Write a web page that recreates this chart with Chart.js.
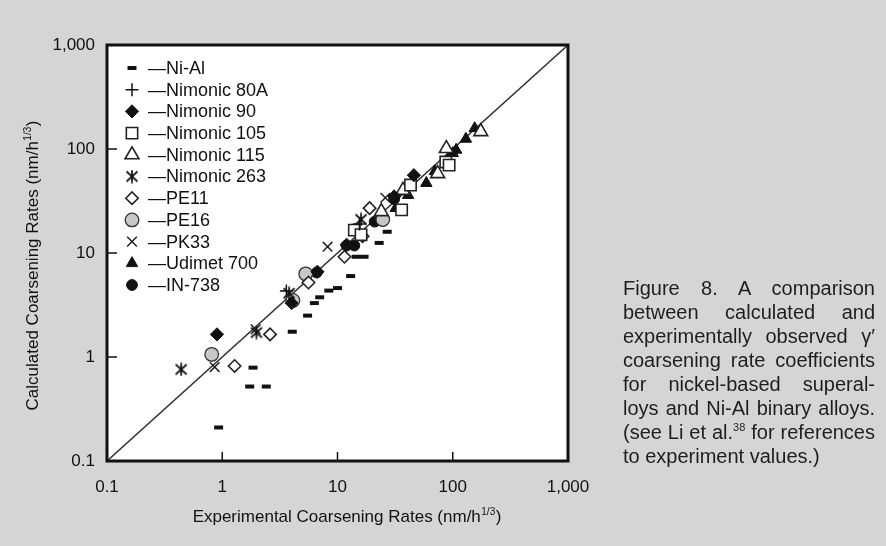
<!DOCTYPE html>
<html>
<head>
<meta charset="utf-8">
<script src="https://cdn.jsdelivr.net/npm/chart.js@4.4.1/dist/chart.umd.min.js"></script>
<style>
body { margin: 0; background: #d4d5d7; }
#wrap { position: relative; width: 886px; height: 546px; }
#caption {
  position: absolute; left: 623px; top: 276px; width: 252px;
  font-family: "Liberation Sans", Arial, sans-serif; font-size: 20px;
  line-height: 24px; color: #1e1e1e;
}
#caption div { text-align: justify; text-align-last: justify; }
#caption div.last { text-align-last: left; }
#caption sup { font-size: 11px; line-height: 0; vertical-align: 8px; }
</style>
</head>
<body>
<div id="wrap">
  <canvas id="myChart"></canvas>
  <div id="caption">
    <div>Figure 8. A comparison</div>
    <div>between calculated and</div>
    <div>experimentally observed γ′</div>
    <div>coarsening rate coefficients</div>
    <div>for nickel-based superal-</div>
    <div>loys and Ni-Al binary alloys.</div>
    <div>(see Li et al.<sup>38</sup> for references</div>
    <div class="last">to experiment values.)</div>
  </div>
</div>
<script>
'use strict';
// tick values and their printed labels
var tickValues = [0.1, 1, 10, 100, 1000];
var tickLabels = ['0.1', '1', '10', '100', '1,000'];

// identity line: calculated = experimental
var parityLine = [[0.1, 0.1], [1000, 1000]];

// [experimental, calculated] pairs
var niAl = [[0.93, 0.21], [1.73, 0.52], [2.41, 0.52], [1.85, 0.79], [4.05, 1.75],
    [5.5, 2.5], [6.3, 3.3], [7.0, 3.75], [8.4, 4.35], [10, 4.6], [13, 6.0],
    [14.5, 9.2], [17, 9.2], [23, 12.5], [27, 16]];
var nimonic80A = [[3.6, 4.3], [15.5, 19]];
var nimonic90 = [[0.9, 1.65], [4.0, 3.3], [6.7, 6.6], [12, 12], [31, 35], [46, 56]];
var nimonic105 = [[14, 16.6], [16, 15], [36, 26], [43, 45], [87, 75], [93, 70]];
var nimonic115 = [[24, 25], [37, 40], [74, 58], [88, 101], [175, 147]];
var nimonic263 = [[0.44, 0.76], [1.98, 1.72], [3.8, 4.1], [16, 21]];
var pe11 = [[1.28, 0.82], [2.6, 1.65], [5.6, 5.2], [11.5, 9.2], [16.5, 14.5], [19, 27]];
var pe16 = [[0.81, 1.06], [4.1, 3.5], [5.3, 6.3], [24.7, 21]];
var pk33 = [[0.86, 0.8], [1.95, 1.85], [8.2, 11.5], [26, 34]];
var udimet700 = [[32, 27], [41, 36], [59, 47], [70, 61], [90, 78], [100, 91],
    [107, 98], [130, 125], [155, 158]];
var in738 = [[6.6, 6.5], [12, 11.8], [14, 11.8], [21, 20], [31, 33]];

var seriesNames = ['Ni-Al', 'Nimonic 80A', 'Nimonic 90', 'Nimonic 105', 'Nimonic 115',
    'Nimonic 263', 'PE11', 'PE16', 'PK33', 'Udimet 700', 'IN-738'];

var FONT = '"Liberation Sans", Arial, sans-serif';

var toPoints = function(pairs) {
    return pairs.map(function(p) { return {x: p[0], y: p[1]}; });
};

// six-armed asterisk used for Nimonic 263
var makeAsterisk = function() {
    var c = document.createElement('canvas');
    c.width = 14; c.height = 14;
    var g = c.getContext('2d');
    g.strokeStyle = '#111';
    g.lineWidth = 1.7;
    g.beginPath();
    g.moveTo(7, 0.5); g.lineTo(7, 13.5);
    g.moveTo(1.5, 2); g.lineTo(12.5, 12);
    g.moveTo(12.5, 2); g.lineTo(1.5, 12);
    g.stroke();
    return c;
};

var marker = function(name, pairs, style, radius, fill, border, width) {
    return {
        label: name,
        data: toPoints(pairs),
        showLine: false,
        pointStyle: style,
        pointRadius: radius,
        pointBackgroundColor: fill,
        pointBorderColor: border,
        pointBorderWidth: width,
        order: 0
    };
};

var datasets = [
    marker(seriesNames[0], niAl, 'line', 4.5, '#111', '#111', 4),
    marker(seriesNames[1], nimonic80A, 'cross', 6.5, '#111', '#111', 1.5),
    marker(seriesNames[2], nimonic90, 'rectRot', 6.6, '#111', '#111', 1),
    marker(seriesNames[3], nimonic105, 'rect', 8, '#fff', '#222', 1.6),
    marker(seriesNames[4], nimonic115, 'triangle', 8, '#fff', '#222', 1.6),
    marker(seriesNames[5], nimonic263, makeAsterisk(), 7, '#111', '#111', 1),
    marker(seriesNames[6], pe11, 'rectRot', 6.2, '#fff', '#222', 1.6),
    marker(seriesNames[7], pe16, 'circle', 6.8, '#c8c8c8', '#333', 1.3),
    marker(seriesNames[8], pk33, 'crossRot', 6.8, '#111', '#222', 1.5),
    marker(seriesNames[9], udimet700, 'triangle', 6.6, '#111', '#111', 1),
    marker(seriesNames[10], in738, 'circle', 5.4, '#111', '#111', 1),
    {
        label: 'parity',
        data: toPoints(parityLine),
        showLine: true,
        borderColor: '#333',
        borderWidth: 1.5,
        pointRadius: 0,
        order: 10
    }
];

var drawTitle = function(ctx, main, sup, tail, cx, cy, rotate) {
    ctx.save();
    ctx.translate(cx, cy);
    if (rotate) ctx.rotate(-Math.PI / 2);
    ctx.fillStyle = '#111';
    ctx.textBaseline = 'middle';
    ctx.textAlign = 'left';
    ctx.font = '17px ' + FONT;
    var w1 = ctx.measureText(main).width;
    var w3 = ctx.measureText(tail).width;
    ctx.font = '10px ' + FONT;
    var w2 = ctx.measureText(sup).width;
    var x = -(w1 + w2 + w3) / 2;
    ctx.font = '17px ' + FONT;
    ctx.fillText(main, x, 0);
    ctx.font = '10px ' + FONT;
    ctx.fillText(sup, x + w1 + 0.5, -5);
    ctx.font = '17px ' + FONT;
    ctx.fillText(tail, x + w1 + w2 + 1, 0);
    ctx.restore();
};

var framePlugin = {
    id: 'frame',
    beforeDraw: function(chart) {
        var a = chart.chartArea, ctx = chart.ctx;
        ctx.save();
        ctx.fillStyle = '#fff';
        ctx.fillRect(a.left, a.top, a.right - a.left, a.bottom - a.top);
        ctx.restore();
    },
    afterDraw: function(chart) {
        var a = chart.chartArea, ctx = chart.ctx;
        var xs = chart.scales.x, ys = chart.scales.y;
        ctx.save();
        // inward tick marks
        ctx.strokeStyle = '#111';
        ctx.lineWidth = 1.5;
        ctx.beginPath();
        tickValues.slice(1, -1).forEach(function(v) {
            var px = xs.getPixelForValue(v);
            ctx.moveTo(px, a.bottom); ctx.lineTo(px, a.bottom - 9);
            var py = ys.getPixelForValue(v);
            ctx.moveTo(a.left, py); ctx.lineTo(a.left + 10, py);
        });
        ctx.stroke();
        // frame
        ctx.lineWidth = 3;
        ctx.strokeRect(a.left, a.top, a.right - a.left, a.bottom - a.top);

        // legend inside the plot
        ctx.font = '18px ' + FONT;
        ctx.textBaseline = 'middle';
        ctx.textAlign = 'left';
        var rowY = a.top + 23;
        chart.data.datasets.forEach(function(ds) {
            if (ds.label === 'parity') return;
            ctx.fillStyle = ds.pointBackgroundColor;
            ctx.strokeStyle = ds.pointBorderColor;
            ctx.lineWidth = ds.pointBorderWidth;
            Chart.helpers.drawPoint(ctx, {
                pointStyle: ds.pointStyle,
                radius: ds.pointRadius,
                rotation: 0,
                borderWidth: ds.pointBorderWidth
            }, a.left + 25, rowY);
            ctx.fillStyle = '#111';
            ctx.fillText('\u2014' + ds.label, a.left + 41, rowY + 1);
            rowY += 21.7;
        });
        ctx.restore();

        drawTitle(ctx, 'Experimental Coarsening Rates (nm/h', '1/3', ')',
            (a.left + a.right) / 2 + 9, 517, false);
        drawTitle(ctx, 'Calculated Coarsening Rates (nm/h', '1/3', ')',
            33, (a.top + a.bottom) / 2 + 13, true);
    }
};

var tickFont = {family: FONT, size: 17};

var ctx = document.getElementById('myChart');
var myChart = new Chart(ctx, {
    type: 'scatter',
    data: {datasets: datasets},
    options: {
        responsive: true,
        maintainAspectRatio: false,
        animation: false,
        events: [],
        layout: {padding: {left: 0, top: 45, right: 318, bottom: 0}},
        plugins: {legend: {display: false}, tooltip: {enabled: false}},
        scales: {
            x: {
                type: 'logarithmic',
                min: 0.1,
                max: 1000,
                grid: {display: false, drawTicks: false},
                border: {display: false},
                afterBuildTicks: function(scale) {
                    scale.ticks = tickValues.map(function(v) { return {value: v}; });
                },
                afterFit: function(scale) { scale.height = 85; },
                ticks: {
                    font: tickFont,
                    color: '#111',
                    padding: 16,
                    maxRotation: 0,
                    callback: function(value, index) { return tickLabels[index]; }
                }
            },
            y: {
                type: 'logarithmic',
                min: 0.1,
                max: 1000,
                grid: {display: false, drawTicks: false},
                border: {display: false},
                afterBuildTicks: function(scale) {
                    scale.ticks = tickValues.map(function(v) { return {value: v}; });
                },
                afterFit: function(scale) { scale.width = 107; },
                ticks: {
                    font: tickFont,
                    color: '#111',
                    padding: 12,
                    callback: function(value, index) { return tickLabels[index]; }
                }
            }
        }
    },
    plugins: [framePlugin]
});
</script>
</body>
</html>
